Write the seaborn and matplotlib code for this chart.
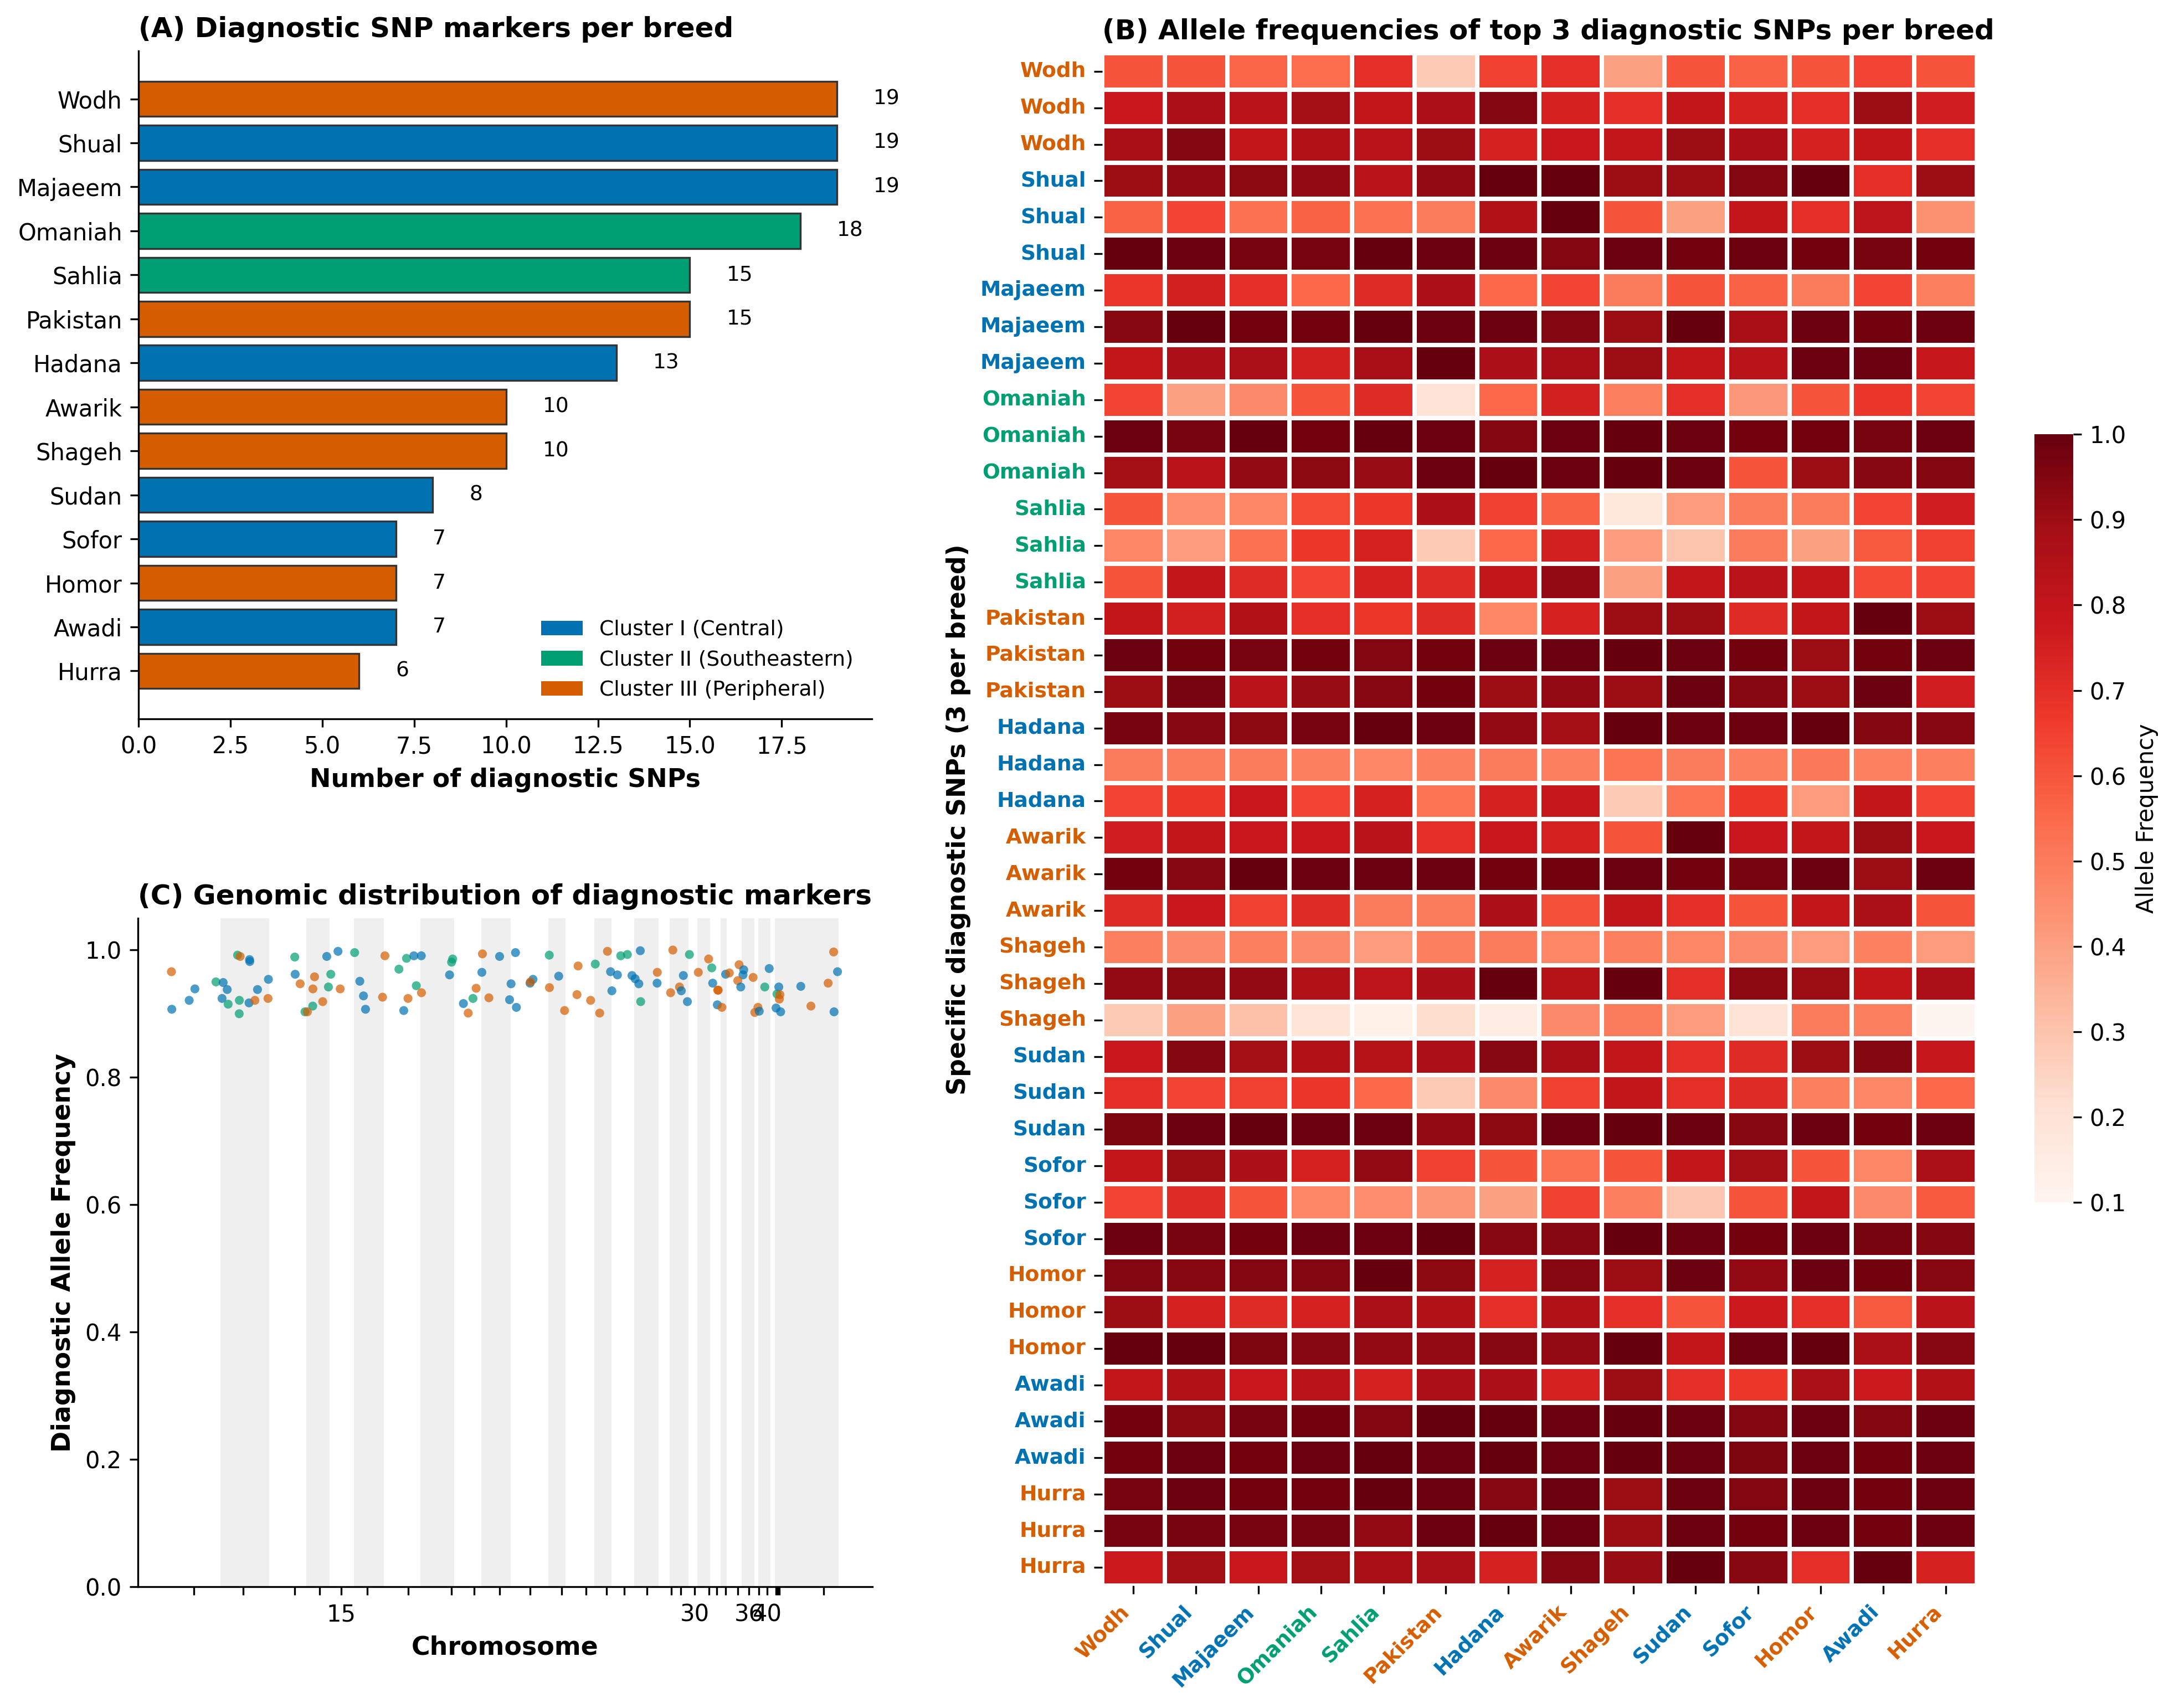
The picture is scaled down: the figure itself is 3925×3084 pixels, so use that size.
import numpy as np
import pandas as pd
import matplotlib
matplotlib.use("Agg")
import matplotlib.pyplot as plt
import seaborn as sns
from matplotlib.patches import Patch

# Породы, кластеры и число диагностических SNP
breeds = ["Wodh", "Shual", "Majaeem", "Omaniah", "Sahlia", "Pakistan", "Hadana",
          "Awarik", "Shageh", "Sudan", "Sofor", "Homor", "Awadi", "Hurra"]
breed_cluster = ["III", "I", "I", "II", "II", "III", "I",
                 "III", "III", "I", "I", "III", "I", "III"]
n_diag = [19, 19, 19, 18, 15, 15, 13, 10, 10, 8, 7, 7, 7, 6]

cluster_colors = {"I": "#0072B2", "II": "#009E73", "III": "#D55E00"}
cluster_names = {"I": "Cluster I (Central)", "II": "Cluster II (Southeastern)",
                 "III": "Cluster III (Peripheral)"}

# Частоты аллелей: 3 SNP на породу (строки) x 14 пород (столбцы)
heat_values = [
    [0.60, 0.60, 0.56, 0.54, 0.70, 0.28, 0.65, 0.70, 0.40, 0.60, 0.57, 0.60, 0.64, 0.60],
    [0.78, 0.86, 0.83, 0.89, 0.80, 0.86, 0.95, 0.74, 0.70, 0.80, 0.74, 0.70, 0.90, 0.76],
    [0.88, 0.95, 0.80, 0.85, 0.83, 0.90, 0.74, 0.78, 0.80, 0.90, 0.86, 0.74, 0.80, 0.70],
    [0.90, 0.92, 0.93, 0.92, 0.83, 0.92, 1.00, 1.00, 0.90, 0.90, 0.95, 1.00, 0.70, 0.90],
    [0.57, 0.64, 0.53, 0.57, 0.53, 0.50, 0.85, 1.00, 0.60, 0.40, 0.80, 0.70, 0.82, 0.44],
    [1.00, 0.99, 0.97, 0.97, 1.00, 0.99, 0.99, 0.95, 0.99, 0.98, 0.99, 0.98, 0.97, 0.98],
    [0.68, 0.75, 0.70, 0.55, 0.71, 0.86, 0.55, 0.64, 0.50, 0.60, 0.57, 0.50, 0.64, 0.49],
    [0.94, 1.00, 0.98, 0.98, 1.00, 0.99, 0.99, 0.95, 0.90, 1.00, 0.88, 0.99, 0.98, 0.99],
    [0.80, 0.86, 0.87, 0.75, 0.88, 1.00, 0.86, 0.88, 0.90, 0.80, 0.83, 0.99, 0.99, 0.79],
    [0.64, 0.40, 0.46, 0.60, 0.71, 0.20, 0.55, 0.75, 0.49, 0.70, 0.42, 0.60, 0.68, 0.64],
    [0.99, 0.97, 1.00, 0.98, 1.00, 0.99, 0.95, 0.99, 1.00, 0.99, 0.98, 0.98, 0.97, 0.99],
    [0.89, 0.83, 0.92, 0.93, 0.91, 0.99, 1.00, 0.99, 1.00, 0.99, 0.60, 0.90, 0.94, 0.95],
    [0.60, 0.45, 0.47, 0.63, 0.67, 0.86, 0.65, 0.57, 0.18, 0.41, 0.50, 0.50, 0.64, 0.76],
    [0.47, 0.41, 0.53, 0.67, 0.74, 0.28, 0.55, 0.75, 0.41, 0.30, 0.50, 0.40, 0.59, 0.65],
    [0.60, 0.80, 0.71, 0.64, 0.74, 0.71, 0.80, 0.92, 0.40, 0.80, 0.83, 0.80, 0.63, 0.64],
    [0.80, 0.75, 0.85, 0.70, 0.67, 0.71, 0.47, 0.74, 0.90, 0.90, 0.71, 0.80, 1.00, 0.90],
    [0.99, 0.98, 0.97, 0.98, 0.95, 0.98, 0.99, 0.99, 1.00, 0.99, 0.98, 0.90, 0.98, 0.99],
    [0.90, 0.97, 0.83, 0.91, 0.94, 0.98, 0.90, 0.92, 0.90, 0.99, 0.94, 0.90, 0.99, 0.76],
    [0.97, 0.94, 0.93, 0.97, 1.00, 0.99, 0.92, 0.89, 1.00, 0.99, 0.99, 1.00, 0.95, 0.94],
    [0.50, 0.50, 0.50, 0.49, 0.47, 0.49, 0.50, 0.49, 0.52, 0.50, 0.49, 0.51, 0.48, 0.49],
    [0.64, 0.67, 0.78, 0.64, 0.74, 0.52, 0.74, 0.79, 0.28, 0.52, 0.67, 0.41, 0.80, 0.64],
    [0.76, 0.80, 0.78, 0.78, 0.83, 0.70, 0.78, 0.74, 0.60, 1.00, 0.78, 0.80, 0.90, 0.78],
    [0.98, 0.94, 1.00, 0.99, 0.99, 0.99, 0.98, 0.98, 0.99, 0.98, 0.97, 0.99, 0.90, 0.99],
    [0.71, 0.78, 0.65, 0.71, 0.50, 0.50, 0.86, 0.61, 0.80, 0.70, 0.60, 0.80, 0.87, 0.60],
    [0.49, 0.46, 0.49, 0.46, 0.41, 0.49, 0.50, 0.47, 0.49, 0.47, 0.46, 0.41, 0.48, 0.41],
    [0.92, 0.93, 0.92, 0.85, 0.82, 0.86, 1.00, 0.84, 1.00, 0.70, 0.93, 0.90, 0.80, 0.87],
    [0.28, 0.40, 0.31, 0.19, 0.13, 0.22, 0.15, 0.46, 0.50, 0.41, 0.20, 0.50, 0.49, 0.10],
    [0.78, 0.95, 0.89, 0.85, 0.84, 0.86, 0.94, 0.88, 0.80, 0.70, 0.71, 0.90, 0.95, 0.79],
    [0.70, 0.64, 0.65, 0.68, 0.55, 0.28, 0.46, 0.65, 0.80, 0.70, 0.71, 0.49, 0.47, 0.55],
    [0.96, 0.99, 1.00, 0.99, 0.99, 0.92, 0.93, 0.99, 1.00, 0.99, 0.94, 0.99, 0.98, 0.99],
    [0.80, 0.90, 0.86, 0.74, 0.92, 0.65, 0.60, 0.53, 0.60, 0.80, 0.89, 0.60, 0.47, 0.87],
    [0.64, 0.71, 0.60, 0.47, 0.45, 0.43, 0.40, 0.65, 0.49, 0.29, 0.60, 0.80, 0.46, 0.59],
    [0.99, 0.97, 0.98, 0.99, 0.99, 1.00, 0.94, 0.94, 1.00, 0.99, 0.98, 0.99, 0.97, 0.95],
    [0.95, 0.94, 0.95, 0.95, 1.00, 0.93, 0.74, 0.94, 0.90, 0.99, 0.92, 0.99, 0.98, 0.94],
    [0.90, 0.74, 0.71, 0.74, 0.87, 0.85, 0.70, 0.85, 0.70, 0.60, 0.77, 0.70, 0.59, 0.83],
    [1.00, 1.00, 0.96, 0.94, 0.92, 0.92, 0.94, 0.92, 1.00, 0.80, 0.99, 1.00, 0.87, 0.94],
    [0.80, 0.85, 0.78, 0.83, 0.74, 0.86, 0.86, 0.74, 0.90, 0.70, 0.67, 0.87, 0.77, 0.85],
    [0.98, 0.93, 0.97, 0.98, 0.95, 1.00, 1.00, 0.99, 1.00, 0.99, 0.95, 0.99, 0.95, 0.99],
    [0.98, 0.99, 0.98, 0.99, 1.00, 0.99, 1.00, 0.99, 1.00, 0.99, 0.96, 0.99, 0.98, 0.99],
    [0.97, 0.99, 0.98, 0.98, 1.00, 0.99, 0.94, 0.99, 0.90, 0.99, 0.95, 0.99, 0.98, 0.99],
    [0.97, 0.97, 0.97, 0.97, 0.92, 0.99, 1.00, 0.99, 0.90, 0.99, 0.98, 0.99, 0.98, 0.99],
    [0.77, 0.89, 0.78, 0.89, 0.88, 0.87, 0.74, 0.95, 0.91, 1.00, 0.94, 0.70, 1.00, 0.74],
]

# Диагностические маркеры: кумулятивная позиция (Мб), частота, кластер
snp_pos = [97.1, 98.1, 148.3, 164.8, 225.6, 246.4, 258.1, 243.2, 260.8, 293.3,
           292.8, 288.0, 295.5, 322.7, 323.2, 321.1, 338.1, 345.6, 376.0, 377.1,
           453.3, 454.4, 468.8, 510.4, 505.6, 557.3, 550.4, 584.5, 533.9, 505.1,
           482.7, 489.6, 545.6, 578.1, 626.1, 713.6, 641.1, 651.7, 706.7, 657.6,
           754.1, 776.0, 797.3, 818.7, 804.3, 819.2, 780.3, 768.0, 909.3, 906.1,
           900.3, 940.3, 954.1, 968.0, 977.1, 995.2, 993.6, 1013.9, 1044.8, 1090.7,
           1077.9, 1073.6, 1093.3, 1132.8, 1141.3, 1133.9, 1188.3, 1188.8, 1215.5, 1232.5,
           1271.5, 1268.3, 1321.1, 1307.7, 1333.9, 1356.3, 1365.3, 1385.1, 1369.1, 1394.7,
           1413.9, 1451.2, 1427.2, 1436.3, 1446.9, 1452.3, 1500.3, 1499.7, 1545.1, 1538.7,
           1564.3, 1569.6, 1575.5, 1587.2, 1593.1, 1618.7, 1648.5, 1657.6, 1660.3, 1674.7,
           1676.3, 1673.6, 1686.9, 1697.6, 1708.3, 1736.5, 1749.9, 1747.7, 1732.8, 1741.3,
           1777.1, 1823.5, 1810.7, 1790.9, 1781.9, 1794.7, 1851.2, 1845.9, 1854.4, 1852.8,
           1843.2, 1856.5, 1914.7, 1944.0, 2009.6, 2020.8, 1993.6, 2010.7]
snp_freq = [0.966, 0.907, 0.921, 0.939, 0.950, 0.949, 0.938, 0.924, 0.915, 0.921,
            0.900, 0.992, 0.990, 0.985, 0.982, 0.917, 0.921, 0.938, 0.924, 0.954,
            0.989, 0.962, 0.947, 0.958, 0.939, 0.962, 0.942, 0.939, 0.919, 0.912,
            0.903, 0.903, 0.990, 0.998, 0.996, 0.991, 0.951, 0.928, 0.926, 0.907,
            0.970, 0.987, 0.991, 0.991, 0.944, 0.933, 0.924, 0.905, 0.986, 0.981,
            0.961, 0.916, 0.901, 0.924, 0.940, 0.994, 0.965, 0.925, 0.990, 0.996,
            0.947, 0.922, 0.910, 0.948, 0.954, 0.950, 0.992, 0.941, 0.959, 0.905,
            0.975, 0.930, 0.978, 0.921, 0.901, 0.998, 0.966, 0.961, 0.936, 0.991,
            0.993, 0.999, 0.960, 0.955, 0.947, 0.919, 0.965, 0.948, 1.000, 0.933,
            0.942, 0.936, 0.960, 0.919, 0.993, 0.965, 0.986, 0.972, 0.948, 0.937,
            0.937, 0.914, 0.910, 0.962, 0.964, 0.977, 0.969, 0.961, 0.952, 0.942,
            0.957, 0.971, 0.942, 0.910, 0.902, 0.904, 0.942, 0.931, 0.930, 0.923,
            0.909, 0.903, 0.943, 0.912, 0.997, 0.966, 0.948, 0.903]
snp_cluster = ["III", "I", "I", "I", "II", "I", "I", "I", "II", "II",
               "II", "II", "III", "I", "I", "I", "III", "I", "III", "I",
               "II", "I", "III", "III", "III", "II", "II", "III", "III", "II",
               "II", "III", "I", "I", "II", "III", "I", "I", "III", "I",
               "II", "II", "I", "I", "II", "III", "III", "I", "II", "II",
               "I", "I", "III", "II", "III", "III", "I", "III", "I", "I",
               "I", "I", "I", "I", "I", "III", "II", "III", "I", "III",
               "III", "III", "II", "III", "III", "III", "I", "I", "I", "II",
               "II", "I", "I", "I", "I", "II", "III", "I", "III", "III",
               "III", "I", "I", "I", "II", "III", "III", "II", "I", "III",
               "III", "I", "III", "I", "III", "III", "I", "I", "III", "I",
               "III", "I", "II", "III", "III", "I", "I", "II", "III", "III",
               "I", "I", "I", "III", "III", "I", "III", "I"]

# Хромосомы: затенённые диапазоны и положения делений
chrom_bands = [(238.4, 379.2), (486.4, 553.6), (624.0, 710.4), (816.0, 913.6),
               (992.0, 1076.8), (1185.6, 1235.2), (1318.4, 1368.0), (1433.6, 1504.0),
               (1536.0, 1590.4), (1616.0, 1652.8), (1683.2, 1700.8), (1744.0, 1780.8),
               (1792.0, 1827.2), (1840.0, 2024.0)]
chrom_ticks = [161.6, 304.0, 452.8, 524.8, 587.2, 662.4, 780.8, 905.6, 971.2, 1044.8,
               1132.8, 1224.0, 1294.4, 1353.6, 1404.8, 1470.4, 1540.8, 1568.0, 1608.0,
               1649.6, 1672.0, 1697.6, 1732.8, 1764.8, 1793.6, 1817.6, 1843.2, 1848.0,
               1852.8, 1980.8]
chrom_tick_labels = ["", "", "", "", "15", "", "", "", "", "",
                     "", "", "", "", "", "", "", "", "30",
                     "", "", "", "", "36", "", "40", "", "",
                     "", ""]

plt.rcParams["font.family"] = "DejaVu Sans"
plt.rcParams["font.size"] = 10

fig = plt.figure(figsize=(3925 / 300, 3084 / 300), dpi=300)

# (A) Столбчатая диаграмма
ax_a = fig.add_axes([0.0637, 0.5791, 0.3373, 0.3911])
df_a = pd.DataFrame({"breed": breeds, "n": n_diag, "cluster": breed_cluster})
sns.barplot(data=df_a, x="n", y="breed", hue="cluster", palette=cluster_colors,
            dodge=False, width=0.8, saturation=1, edgecolor="#333333",
            linewidth=0.8, legend=False, ax=ax_a)
ax_a.set_ylim(len(breeds) - 1 + 1.09, -1.09)
for i, v in enumerate(n_diag):
    ax_a.text(v + 1, i, str(v), va="center", ha="left", fontsize=9)
ax_a.set_xlabel("Number of diagnostic SNPs", fontsize=11, fontweight="bold")
ax_a.set_ylabel("")
ax_a.set_title("(A) Diagnostic SNP markers per breed", fontsize=12,
               fontweight="bold", loc="left")
handles = [Patch(facecolor=cluster_colors[k], label=cluster_names[k]) for k in ["I", "II", "III"]]
ax_a.legend(handles=handles, loc="lower right", frameon=False, fontsize=9)
sns.despine(ax=ax_a)

# (B) Тепловая карта
row_labels = [b for b in breeds for _ in range(3)]
heat_df = pd.DataFrame(heat_values, columns=breeds)
ax_b = fig.add_axes([0.5070, 0.0717, 0.4023, 0.8972])
cax = fig.add_axes([0.9358, 0.2960, 0.0178, 0.4497])
sns.heatmap(heat_df, cmap="Reds", vmin=0.1, vmax=1.0, linewidths=1.9,
            linecolor="white", ax=ax_b, cbar_ax=cax,
            xticklabels=breeds, yticklabels=row_labels,
            cbar_kws={"ticks": [0.1, 0.2, 0.3, 0.4, 0.5, 0.6, 0.7, 0.8, 0.9, 1.0]})
cax.set_ylabel("Allele Frequency", fontsize=10)
cax.tick_params(labelsize=10)
color_of = dict(zip(breeds, breed_cluster))
ax_b.set_yticklabels(row_labels, rotation=0, fontsize=9, fontweight="bold")
ax_b.set_xticklabels(breeds, rotation=45, ha="right", fontsize=9, fontweight="bold")
for lab in ax_b.get_yticklabels() + ax_b.get_xticklabels():
    lab.set_color(cluster_colors[color_of[lab.get_text()]])
ax_b.set_ylabel("Specific diagnostic SNPs (3 per breed)", fontsize=11, fontweight="bold")
ax_b.set_xlabel("")
ax_b.set_title("(B) Allele frequencies of top 3 diagnostic SNPs per breed",
               fontsize=12, fontweight="bold", loc="left")

# (C) Геномное распределение
ax_c = fig.add_axes([0.0634, 0.0710, 0.3379, 0.3914])
for lo, hi in chrom_bands:
    ax_c.axvspan(lo, hi, color="#efefef", lw=0, zorder=0)
sns.scatterplot(x=snp_pos, y=snp_freq, hue=snp_cluster, palette=cluster_colors,
                s=15, alpha=0.7, linewidth=0, legend=False, ax=ax_c, zorder=3)
ax_c.set_xlim(0, 2121.6)
ax_c.set_ylim(0, 1.05)
ax_c.set_xticks(chrom_ticks)
ax_c.set_xticklabels(chrom_tick_labels)
ax_c.set_xlabel("Chromosome", fontsize=11, fontweight="bold")
ax_c.set_ylabel("Diagnostic Allele Frequency", fontsize=11, fontweight="bold")
ax_c.set_title("(C) Genomic distribution of diagnostic markers", fontsize=12,
               fontweight="bold", loc="left")
sns.despine(ax=ax_c)

fig.savefig("out.png", dpi=300)
